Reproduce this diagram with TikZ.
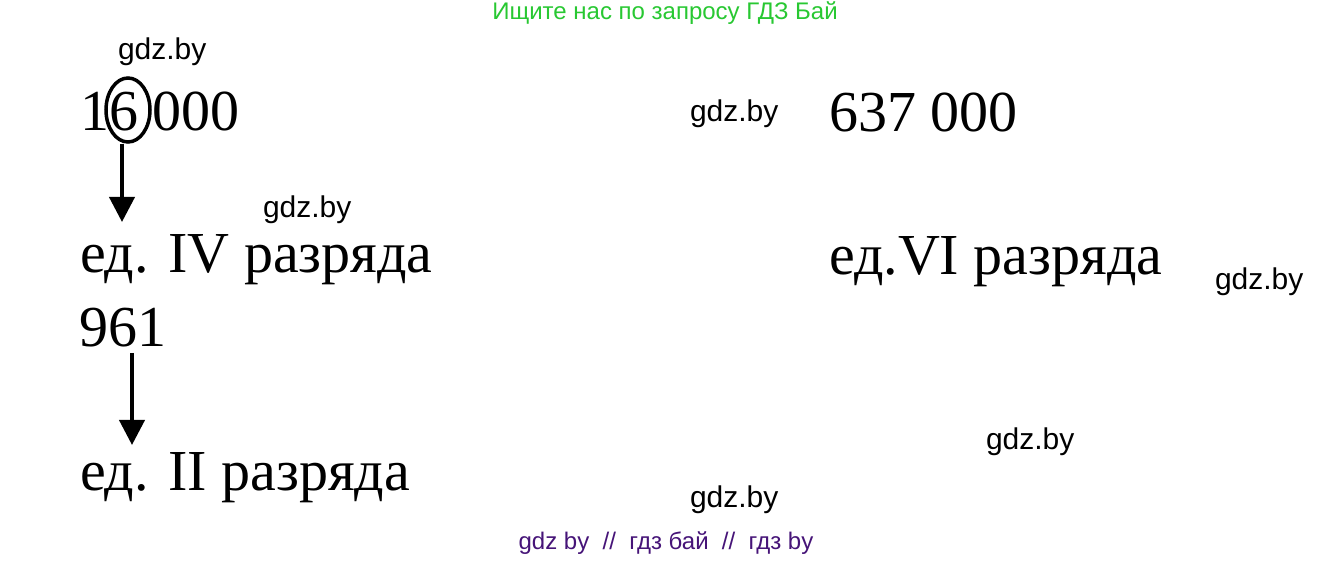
\documentclass[tikz,border=0pt]{standalone}
\usepackage{fontspec}
\setmainfont{Liberation Serif}
\newfontfamily\wmfont{Liberation Sans}
\usetikzlibrary{arrows.meta,shapes.geometric}
\tikzset{
  bigtext/.style={anchor=base west,inner sep=0pt,outer sep=0pt,font=\fontsize{58}{64}\selectfont},
  wmtext/.style={anchor=base west,inner sep=0pt,outer sep=0pt,font=\wmfont\fontsize{30}{34}\selectfont},
  downarrow/.style={line width=4pt,-{Triangle[length=25pt,width=25pt]}}
}
\begin{document}
\begin{tikzpicture}[x=1pt,y=1pt]
\definecolor{fillColor}{RGB}{255,255,255}
\definecolor{headColor}{RGB}{40,200,50}
\definecolor{footColor}{RGB}{70,20,120}
\path[use as bounding box,fill=fillColor] (0,0) rectangle (1334,562);

% watermark lines
\node[anchor=base,inner sep=0pt,text=headColor,font=\wmfont\fontsize{24}{28}\selectfont] (head) at (665,542) {Ищите нас по запросу ГДЗ Бай};
\node[anchor=base,inner sep=0pt,text=footColor,font=\wmfont\fontsize{24}{28}\selectfont] (foot) at (666,12) {gdz by \ // \ гдз бай \ // \ гдз by};

\foreach \px/\py [count=\i] in {118/502, 690/440, 263/344, 1215/272, 986/112, 690/54}
  \node[wmtext] (wm\i) at (\px,\py) {gdz.by};

% left column
\node[bigtext] (n16) at (80,431) {16 000};
\node[draw,ellipse,line width=3.5pt,minimum width=44pt,minimum height=64pt,inner sep=0pt] (ring) at (128,452) {};
\node[bigtext] (r4) at (80,289) {ед. IV разряда};
\node[bigtext] (n961) at (79,215) {961};
\node[bigtext] (r2) at (80,71) {ед. II разряда};

\coordinate (tip4) at (122,340);
\coordinate (top2) at (132,209);
\coordinate (tip2) at (132,117);
\draw[downarrow] (ring.south -| tip4) -- (tip4);
\draw[downarrow] (top2) -- (tip2);

% right column
\node[bigtext] (n637) at (829,430) {637 000};
\node[bigtext] (r6) at (829,287) {ед.VI разряда};
\end{tikzpicture}
\end{document}
